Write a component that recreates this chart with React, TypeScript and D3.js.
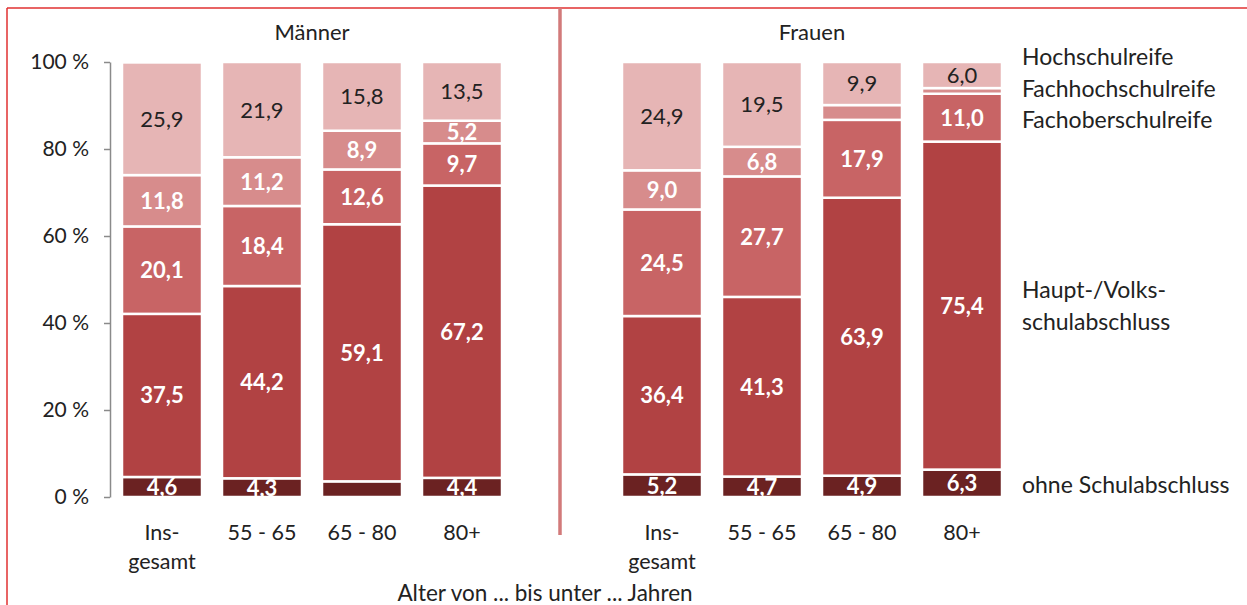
import React, { useEffect, useRef } from "react";
import * as d3 from "d3";

// ---- Data ----
const groupNames = ["Männer", "Frauen"];
const ageCategories = ["Ins-|gesamt", "55 - 65", "65 - 80", "80+"];
const seriesNames = [
  "ohne Schulabschluss",
  "Haupt-/Volksschulabschluss",
  "Fachoberschulreife",
  "Fachhochschulreife",
  "Hochschulreife",
];
const legendLabels = [
  "Hochschulreife",
  "Fachhochschulreife",
  "Fachoberschulreife",
  "Haupt-/Volks-|schulabschluss",
  "ohne Schulabschluss",
];
const yTicks = [0, 20, 40, 60, 80, 100];
const xAxisTitle = "Alter von ... bis unter ... Jahren";

const maennerOhne = [4.6, 4.3, 3.6, 4.4];
const maennerHaupt = [37.5, 44.2, 59.1, 67.2];
const maennerFachober = [20.1, 18.4, 12.6, 9.7];
const maennerFachhoch = [11.8, 11.2, 8.9, 5.2];
const maennerHoch = [25.9, 21.9, 15.8, 13.5];

const frauenOhne = [5.2, 4.7, 4.9, 6.3];
const frauenHaupt = [36.4, 41.3, 63.9, 75.4];
const frauenFachober = [24.5, 27.7, 17.9, 11.0];
const frauenFachhoch = [9.0, 6.8, 3.4, 1.3];
const frauenHoch = [24.9, 19.5, 9.9, 6.0];

const colors = ["#6b2222", "#b14243", "#c86465", "#d78c8c", "#e6b5b5"];
const labelColors = ["#fff", "#fff", "#fff", "#fff", "#222"];

const W = 1247;
const H = 605;
const FONT = "Lato, 'Open Sans', sans-serif";

export default function App() {
  const axisRef = useRef<SVGGElement>(null);

  const groupSeries = [
    [maennerOhne, maennerHaupt, maennerFachober, maennerFachhoch, maennerHoch],
    [frauenOhne, frauenHaupt, frauenFachober, frauenFachhoch, frauenHoch],
  ];

  const slots: string[] = [];
  groupNames.forEach((g, gi) => {
    ageCategories.forEach((_, ci) => slots.push(`${g}-${ci}`));
    if (gi === 0) slots.push("gap");
  });

  const x = d3
    .scaleBand<string>()
    .domain(slots)
    .range([110, 1014])
    .paddingInner(0.2)
    .paddingOuter(0.12);
  const y = d3.scaleLinear().domain([0, 100]).range([497, 62]);
  const bw = x.bandwidth();

  useEffect(() => {
    if (!axisRef.current) return;
    const g = d3.select(axisRef.current);
    g.selectAll("*").remove();
    g.call(
      d3
        .axisLeft(y)
        .tickValues(yTicks)
        .tickSize(6)
        .tickSizeOuter(0)
        .tickPadding(15)
        .tickFormat((d) => `${d} %`)
    );
    g.selectAll("path,line").attr("stroke", "#8a8a8a").attr("stroke-width", 1.5);
    g.selectAll("text")
      .attr("fill", "#222")
      .style("font-size", "21px")
      .style("font-family", FONT);
  }, []);

  const stackKeys = seriesNames.map((_, i) => i);
  const gapCenter = (x("gap") as number) + bw / 2 - 2;

  return (
    <svg
      width={W}
      height={H}
      style={{ position: "absolute", left: 0, top: 0, background: "#fff" }}
      fontFamily={FONT}
    >
      <defs>
        <clipPath id="plotClip">
          <rect x={0} y={0} width={W} height={y(0)} />
        </clipPath>
      </defs>
      {/* frame */}
      <line x1={7} x2={W} y1={8} y2={8} stroke="#e03030" strokeWidth={1.5} />
      <line x1={7} x2={7} y1={8} y2={H} stroke="#e03030" strokeWidth={1.5} />
      {/* divider */}
      <line x1={gapCenter} x2={gapCenter} y1={8} y2={535} stroke="#d27a7a" strokeWidth={3.5} />

      {groupNames.map((g, gi) => {
        const data = ageCategories.map((_, ci) => {
          const row: any = { key: `${g}-${ci}` };
          stackKeys.forEach((k) => (row[k] = groupSeries[gi][k][ci]));
          return row;
        });
        const stacked = d3.stack<any>().keys(stackKeys as any)(data);
        const first = x(`${g}-0`) as number;
        const last = (x(`${g}-${ageCategories.length - 1}`) as number) + bw;
        return (
          <g key={g}>
            <text x={(first + last) / 2} y={40} textAnchor="middle" fontSize={22} fill="#222">
              {g}
            </text>
            {stacked.map((layer, si) =>
              layer.map((d: any, ci) => (
                <rect
                  key={`${si}-${ci}`}
                  x={x(d.data.key)}
                  y={y(d[1])}
                  width={bw}
                  height={Math.max(0, y(d[0]) - y(d[1]))}
                  fill={colors[si]}
                  stroke="#fff"
                  strokeWidth={2.5}
                />
              ))
            )}
            <g clipPath="url(#plotClip)">
              {stacked.map((layer, si) =>
                layer.map((d: any, ci) => {
                  const v = d[1] - d[0];
                  if (v < 4) return null;
                  return (
                    <text
                      key={`l-${si}-${ci}`}
                      x={(x(d.data.key) as number) + bw / 2}
                      y={(y(d[0]) + y(d[1])) / 2}
                      dy="0.36em"
                      textAnchor="middle"
                      fontSize={22}
                      fontWeight={si === 4 ? 400 : 700}
                      fill={labelColors[si]}
                    >
                      {v.toFixed(1).replace(".", ",")}
                    </text>
                  );
                })
              )}
            </g>
            {ageCategories.map((c, ci) => (
              <text
                key={`c-${ci}`}
                x={(x(`${g}-${ci}`) as number) + bw / 2}
                y={540}
                textAnchor="middle"
                fontSize={21.5}
                fill="#222"
              >
                {c.split("|").map((line, li) => (
                  <tspan key={li} x={(x(`${g}-${ci}`) as number) + bw / 2} dy={li === 0 ? 0 : 29}>
                    {line}
                  </tspan>
                ))}
              </text>
            ))}
          </g>
        );
      })}

      <g ref={axisRef} transform={`translate(110,0)`} />

      {/* legend labels */}
      {legendLabels.map((lab, i) => {
        const ys = [65, 97, 128, 298, 493];
        return (
          <text key={lab} x={1022} y={ys[i]} fontSize={23} fill="#222">
            {lab.split("|").map((line, li) => (
              <tspan key={li} x={1022} dy={li === 0 ? 0 : 32}>
                {line}
              </tspan>
            ))}
          </text>
        );
      })}

      <text x={545} y={601} textAnchor="middle" fontSize={22.5} fill="#222">
        {xAxisTitle}
      </text>
    </svg>
  );
}
